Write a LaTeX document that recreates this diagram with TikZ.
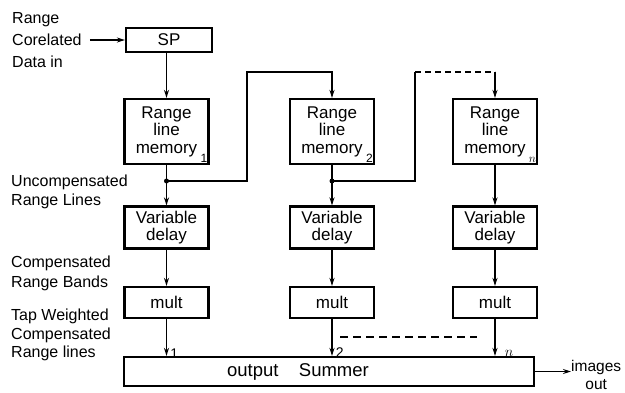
\documentclass[tikz,border=0pt]{standalone}
\usepackage{fontspec}
\setmainfont{Liberation Sans}
\usetikzlibrary{arrows.meta}
\begin{document}
\begin{tikzpicture}[x=1pt,y=-1pt,
  box/.style={draw, line width=2.2pt, minimum width=84pt, inner sep=0pt, align=center, font=\fontsize{17}{17.5}\selectfont},
  conn/.style={line width=1.6pt, -{Stealth[length=8pt,width=5pt]}},
  wire/.style={line width=1.6pt},
  side/.style={anchor=west, align=left, inner sep=0pt, font=\fontsize{16}{19}\selectfont},
  sub/.style={font=\fontsize{12}{12}\selectfont, inner sep=2pt, anchor=south east},
  tap/.style={font=\fontsize{14}{14}\selectfont, inner sep=1pt, anchor=south west},
  dot/.style={circle, fill, inner sep=0pt, minimum size=5pt}
]
\useasboundingbox (0,0) rectangle (625,392);

% side labels
\node[side, font=\fontsize{16}{22}\selectfont] (in) at (12,40) {Range\\Corelated\\Data in};
\node[side] (unc) at (11,191.5) {Uncompensated\\Range Lines};
\node[side, font=\fontsize{16}{20}\selectfont] (comp) at (11,273) {Compensated\\Range Bands};
\node[side, font=\fontsize{16}{18.5}\selectfont] (tapw) at (11,335) {Tap Weighted\\Compensated\\Range lines};

% SP
\node[box, minimum width=86pt, minimum height=24pt] (sp) at (169,40) {SP};

% memories
\node[box, minimum height=65pt] (m1) at (166.5,131.5) {Range\\line\\memory};
\node[box, minimum height=65pt] (m2) at (332,131.5) {Range\\line\\memory};
\node[box, minimum height=65pt] (mn) at (495,131.5) {Range\\line\\memory};
\node[sub] (s1) at (m1.south east) {1};
\node[sub] (s2) at (m2.south east) {2};
\node[sub] (sn) at (mn.south east) {$n$};

% delays
\node[box, minimum height=42pt] (d1) at (166.5,227.5) {Variable\\delay};
\node[box, minimum height=42pt] (d2) at (332,227.5) {Variable\\delay};
\node[box, minimum height=42pt] (dn) at (495,227.5) {Variable\\delay};

% mults
\node[box, minimum height=31pt] (u1) at (166.5,302.5) {mult};
\node[box, minimum height=31pt] (u2) at (332,302.5) {mult};
\node[box, minimum height=31pt] (un) at (495,302.5) {mult};

% summer
\node[box, minimum width=410pt, minimum height=29pt, font=\fontsize{18.5}{19}\selectfont] (sum) at (329,371.5) {output\hspace{1.1em}Summer\hspace*{62pt}};

% output label
\node[anchor=west, align=center, inner sep=0pt, font=\fontsize{15.5}{18}\selectfont] (img) at (571,375) {images\\out};

% input
\draw[conn] ([xshift=8pt]in.east |- sp.west) -- (sp.west);
\draw[conn] (sp.south -| m1.north) -- (m1.north);

% junctions
\coordinate (j1) at (166.5,181);
\coordinate (j2) at (332,181);
\coordinate (t1) at (247,72);
\coordinate (t2) at (415,72);
\node[dot] at (j1) {};
\node[dot] at (j2) {};

\draw[wire] (m1.south) -- (j1);
\draw[conn] (j1) -- (d1.north);
\draw[wire] (m2.south) -- (j2);
\draw[conn] (j2) -- (d2.north);
\draw[conn] (mn.south) -- (dn.north);

\draw[conn] (j1) -| (t1) -| (m2.north);
\draw[wire] (j2) -| (t2);
\coordinate (t3) at (t2 -| mn.north);
\draw[wire, dash pattern=on 6pt off 4pt] (t2) -- (t3);
\draw[conn] (t3) -- (mn.north);

% delay to mult
\draw[conn] (d1.south) -- (u1.north);
\draw[conn] (d2.south) -- (u2.north);
\draw[conn] (dn.south) -- (un.north);

% mult to summer
\draw[conn] (u1.south) -- (u1.south |- sum.north) node[tap, pos=1, xshift=2pt, yshift=-4pt] {1};
\draw[conn] (u2.south) -- (u2.south |- sum.north) node[tap, pos=1, xshift=2pt, yshift=-3pt] {2};
\draw[conn] (un.south) -- (un.south |- sum.north) node[tap, pos=1, xshift=8pt, yshift=-2pt] {$n$};

\coordinate (da) at (340,337);
\coordinate (db) at (477,337);
\draw[line width=2.4pt, dash pattern=on 8pt off 5pt] (da) -- (db);

% output
\draw[conn] (sum.east) -- (sum.east -| img.west);
\end{tikzpicture}
\end{document}
